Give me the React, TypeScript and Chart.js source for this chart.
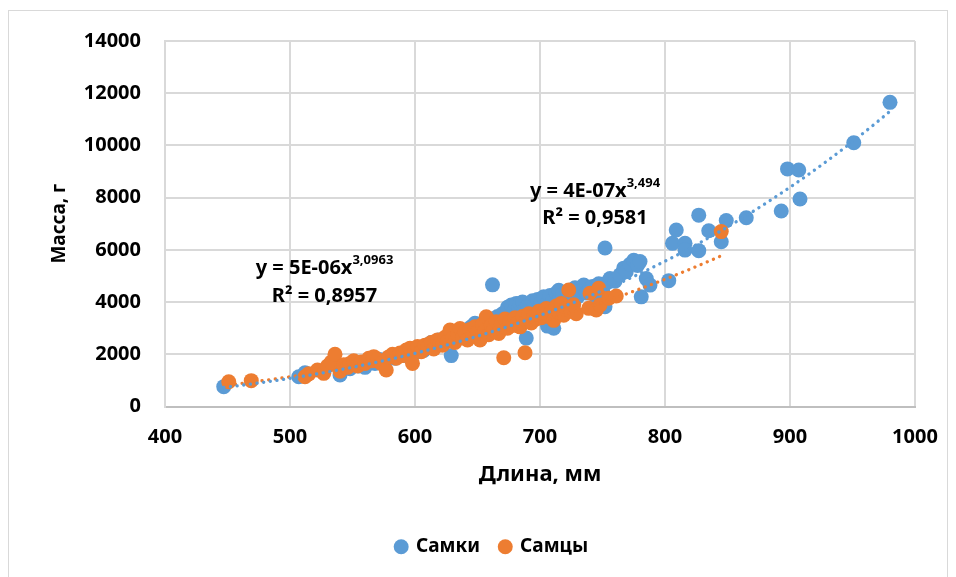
import React, { useEffect, useRef } from "react";
import { Chart, registerables } from "chart.js";

Chart.register(...registerables);

// ---------- data ----------
const femaleLength = [
  447, 507, 512, 540, 548, 555, 560, 563, 568, 572, 576, 580, 584, 588, 592, 596, 600, 603, 607, 610,
  613, 616, 619, 622, 625, 628, 629, 632, 634, 637, 640, 642, 645, 647, 648, 650, 652, 654, 656, 658,
  660, 662, 664, 666, 668, 670, 672, 674, 677, 679, 681, 683, 684, 686, 688, 689, 690, 692, 694, 696,
  698, 700, 701, 703, 705, 706, 708, 710, 711, 713, 715, 716, 718, 720, 722, 724, 726, 728, 730, 733,
  735, 737, 740, 742, 744, 747, 750, 752, 752, 753, 756, 760, 764, 767, 769, 772, 775, 778, 780, 781,
  785, 788, 803, 806, 809, 816, 816, 827, 827, 835, 845, 849, 865, 893, 898, 907, 908, 951, 980,
];
const femaleMass = [
  760, 1140, 1290, 1210, 1450, 1550, 1500, 1700, 1650, 1800, 1750, 1900, 1850, 2000, 1950, 2150, 2050, 2250, 2150, 2350,
  2450, 2300, 2550, 2450, 2650, 2550, 1950, 2750, 2600, 2850, 2700, 2950, 3050, 2850, 3190, 2750, 3100, 2950, 3250, 3050,
  3350, 4660, 3200, 3450, 3300, 3550, 3150, 3800, 3890, 3650, 3950, 3750, 3950, 4000, 3700, 2620, 3850, 3550, 4050, 3900,
  4100, 3800, 4000, 4200, 3900, 3080, 4250, 4050, 3000, 4350, 4450, 4150, 4300, 4050, 4400, 3950, 4350, 4550, 4200, 4450,
  4650, 4350, 4500, 4600, 4250, 4700, 4450, 3820, 6070, 4720, 4900, 4800, 5040, 5300, 5160, 5450, 5600, 5400, 5550, 4200,
  4900, 4650, 4820, 6250, 6760, 6250, 5990, 5970, 7330, 6730, 6310, 7120, 7230, 7490, 9100, 9060, 7950, 10100, 11650,
];

const maleLength = [
  451, 469, 512, 515, 522, 527, 530, 533, 536, 540, 543, 546, 548, 551, 554, 557, 560, 563, 566, 567,
  570, 573, 577, 579, 582, 585, 588, 590, 593, 596, 598, 600, 602, 605, 608, 610, 613, 615, 618, 620,
  622, 624, 626, 628, 630, 632, 634, 636, 638, 640, 642, 644, 646, 648, 650, 652, 654, 656, 657, 659,
  661, 663, 665, 667, 669, 671, 672, 674, 676, 678, 680, 682, 684, 686, 688, 689, 691, 693, 695, 697,
  699, 701, 703, 705, 707, 709, 711, 713, 715, 717, 719, 721, 723, 725, 727, 729, 739, 740, 745, 747,
  748, 755, 761, 845,
];
const maleMass = [
  950, 990, 1140, 1250, 1400, 1270, 1550, 1700, 2000, 1350, 1600, 1500, 1650, 1750, 1550, 1700, 1650, 1850, 1750, 1910,
  1800, 1650, 1400, 1900, 2000, 1850, 2050, 1950, 2160, 2230, 1650, 2150, 2300, 2100, 2350, 2250, 2450, 2200, 2550, 2400,
  2350, 2650, 2500, 2930, 2600, 2450, 2750, 2990, 2650, 2850, 2550, 2950, 2700, 3050, 2850, 2550, 3150, 2900, 3440, 2750,
  3100, 2950, 3250, 2800, 3150, 1870, 3350, 3000, 3250, 3100, 3400, 3200, 3050, 3450, 2060, 3300, 3550, 3200, 3450, 3350,
  3650, 3400, 3550, 3750, 3450, 3650, 3300, 3850, 3600, 3950, 3500, 3750, 4460, 3650, 3900, 3550, 3760, 4340, 3700, 4530,
  3890, 4150, 4230, 6700,
];

const seriesNames = ["Самки", "Самцы"];
const xTitle = "Длина, мм";
const yTitle = "Масса, г";
const xMin = 400, xMax = 1000, xStep = 100;
const yMin = 0, yMax = 14000, yStep = 2000;

// Excel power trend lines (y = a·x^b), as printed on the chart
const femaleTrendA = 4e-7, femaleTrendB = 3.494, femaleTrendRange = [447, 980];
const maleTrendA = 5e-6, maleTrendB = 3.0963, maleTrendRange = [451, 845];
const femaleEq = ["y = 4E-07x", "3,494", "R² = 0,9581"];
const maleEq = ["y = 5E-06x", "3,0963", "R² = 0,8957"];

const BLUE = "#5B9BD5";
const ORANGE = "#ED7D31";
const FONT = "'Noto Sans', 'Open Sans', sans-serif";

function trend(a: number, b: number, range: number[]) {
  const pts: { x: number; y: number }[] = [];
  for (let x = range[0]; x < range[1]; x += 4) pts.push({ x, y: a * Math.pow(x, b) });
  pts.push({ x: range[1], y: a * Math.pow(range[1], b) });
  return pts;
}

const annotationPlugin = {
  id: "eqLabels",
  afterDraw(chart: any) {
    const { ctx, scales } = chart;
    const xs = scales.x, ys = scales.y;
    const items = [
      { x: 527.6, y: 5305, main: maleEq[0], sup: maleEq[1] },
      { x: 527.6, y: 4232, main: maleEq[2], sup: "" },
      { x: 744, y: 8227, main: femaleEq[0], sup: femaleEq[1] },
      { x: 744, y: 7208, main: femaleEq[2], sup: "" },
    ];
    ctx.save();
    ctx.fillStyle = "#000";
    ctx.textBaseline = "middle";
    ctx.textAlign = "left";
    for (const it of items) {
      const cx = xs.getPixelForValue(it.x);
      const cy = ys.getPixelForValue(it.y);
      ctx.font = `bold 20px ${FONT}`;
      const w1 = ctx.measureText(it.main).width;
      ctx.font = `bold 13px ${FONT}`;
      const w2 = it.sup ? ctx.measureText(it.sup).width : 0;
      const start = cx - (w1 + w2) / 2;
      ctx.font = `bold 20px ${FONT}`;
      ctx.fillText(it.main, start, cy);
      if (it.sup) {
        ctx.font = `bold 13px ${FONT}`;
        ctx.fillText(it.sup, start + w1, cy - 8);
      }
    }
    ctx.restore();
  },
};

const legendPlacePlugin = {
  id: "legendPlace",
  afterLayout(chart: any) {
    const l = chart.legend;
    if (!l) return;
    const targetCenterX = 483;
    const targetCenterY = 535.7;
    const pad = l.options.labels.padding;
    const fs = 19;
    const dx = targetCenterX - (l.left + l.right) / 2;
    l.left += dx;
    l.right += dx;
    const h = l.height;
    l.top = targetCenterY - pad - fs / 2;
    l.bottom = l.top + h;
  },
};

const plainTick = (v: any) => String(v);

export default function App() {
  const ref = useRef<HTMLCanvasElement | null>(null);

  useEffect(() => {
    document.body.style.overflow = "hidden";
    const canvas = ref.current!;
    const chart = new Chart(canvas, {
      type: "scatter",
      data: {
        datasets: [
          {
            label: seriesNames[0],
            data: femaleLength.map((x, i) => ({ x, y: femaleMass[i] })),
            backgroundColor: BLUE,
            borderColor: BLUE,
            pointRadius: 7.5,
            pointHoverRadius: 7.5,
            pointBorderWidth: 0,
            pointStyle: "circle",
            order: 3,
          },
          {
            label: seriesNames[1],
            data: maleLength.map((x, i) => ({ x, y: maleMass[i] })),
            backgroundColor: ORANGE,
            borderColor: ORANGE,
            pointRadius: 7.5,
            pointHoverRadius: 7.5,
            pointBorderWidth: 0,
            pointStyle: "circle",
            order: 2,
          },
          {
            type: "line",
            label: "trendF",
            data: trend(femaleTrendA, femaleTrendB, femaleTrendRange),
            borderColor: BLUE,
            backgroundColor: BLUE,
            borderWidth: 3.3,
            borderDash: [0.1, 6.6],
            borderCapStyle: "round",
            pointRadius: 0,
            showLine: true,
            fill: false,
            tension: 0,
            order: 0,
          } as any,
          {
            type: "line",
            label: "trendM",
            data: trend(maleTrendA, maleTrendB, maleTrendRange),
            borderColor: ORANGE,
            backgroundColor: ORANGE,
            borderWidth: 3.3,
            borderDash: [0.1, 6.6],
            borderCapStyle: "round",
            pointRadius: 0,
            showLine: true,
            fill: false,
            tension: 0,
            order: 1,
          } as any,
        ],
      },
      options: {
        responsive: false,
        animation: false,
        devicePixelRatio: 1,
        layout: { padding: { left: 35.6, right: 32, top: 30, bottom: 35.8 } },
        plugins: {
          tooltip: { enabled: false },
          legend: {
            display: true,
            position: "bottom",
            labels: {
              filter: (item: any) => item.datasetIndex < 2,
              sort: (a: any, b: any) => a.datasetIndex - b.datasetIndex,
              usePointStyle: true,
              boxWidth: 10.6,
              boxHeight: 10.6,
              padding: 20,
              color: "#000",
              font: { family: FONT, size: 19, weight: "bold" },
            },
          },
        },
        scales: {
          x: {
            type: "linear",
            min: xMin,
            max: xMax,
            afterFit: (s: any) => { s.height = 85.7; },
            ticks: {
              stepSize: xStep,
              padding: 0,
              callback: plainTick,
              color: "#000",
              font: { family: FONT, size: 20, weight: "bold" },
            },
            grid: { color: "#d9d9d9", lineWidth: 2, drawTicks: true, tickLength: 18.5, tickColor: "rgba(0,0,0,0)" },
            border: { color: "#bfbfbf", width: 2 },
            title: {
              display: true,
              text: xTitle,
              color: "#000",
              padding: { top: 4, bottom: 4 },
              font: { family: FONT, size: 22, weight: "bold" },
            },
          },
          y: {
            type: "linear",
            min: yMin,
            max: yMax,
            afterFit: (s: any) => { s.width = 120.4; },
            ticks: {
              stepSize: yStep,
              padding: 0,
              callback: plainTick,
              color: "#000",
              font: { family: FONT, size: 20, weight: "bold" },
            },
            grid: { color: "#d9d9d9", lineWidth: 2, drawTicks: true, tickLength: 24, tickColor: "rgba(0,0,0,0)" },
            border: { color: "#d9d9d9", width: 2 },
            title: {
              display: true,
              text: yTitle,
              color: "#000",
              padding: { top: 4, bottom: 4 },
              font: { family: FONT, size: 19, weight: "bold" },
            },
          },
        },
      },
      plugins: [annotationPlugin, legendPlacePlugin],
    } as any);
    return () => chart.destroy();
  }, []);

  return (
    <div
      style={{
        border: "1px solid #d9d9d9",
        width: 938,
        height: 566,
        marginTop: 2,
        boxSizing: "content-box",
      }}
    >
      <canvas ref={ref} width={938} height={566} style={{ display: "block", width: 938, height: 566 }} />
    </div>
  );
}
